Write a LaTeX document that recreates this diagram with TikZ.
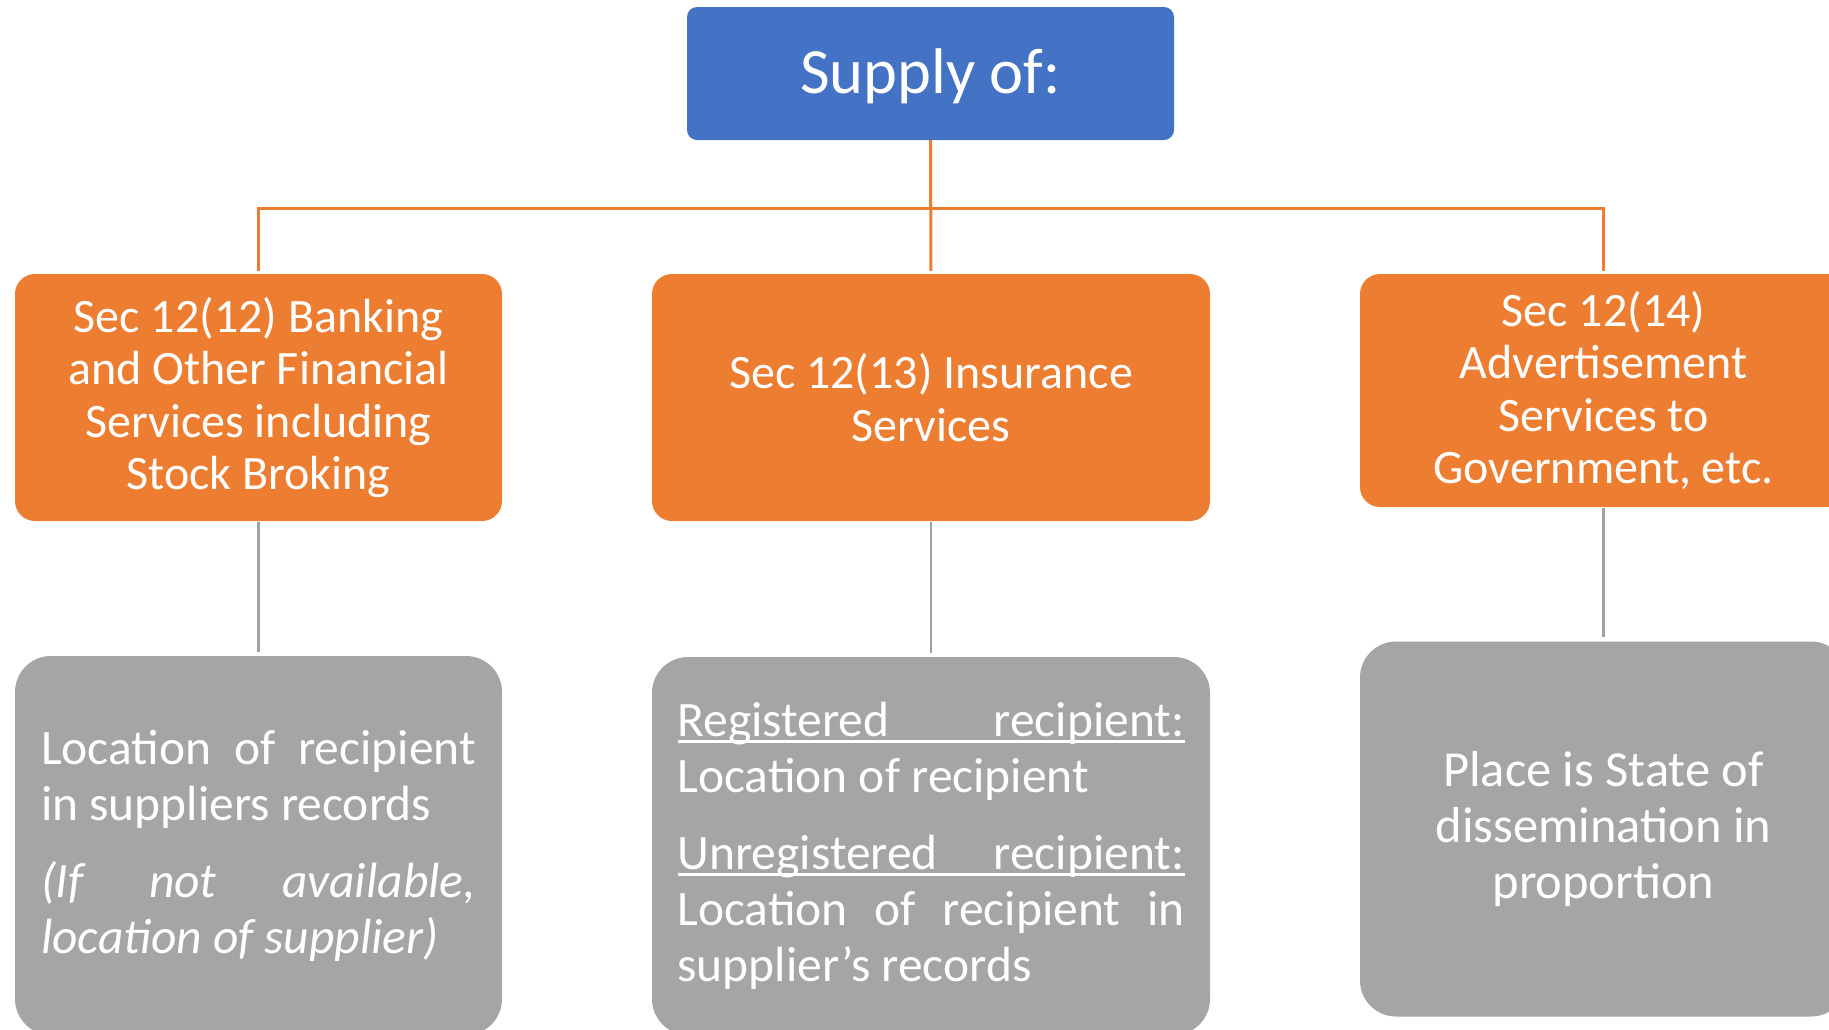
\documentclass[tikz,border=0pt]{standalone}
\usepackage{fontspec}
\setmainfont{Carlito}
\definecolor{hdrblue}{HTML}{4472C4}
\definecolor{secorange}{HTML}{ED7D31}
\definecolor{rulegrey}{HTML}{A5A5A5}
\definecolor{linkgrey}{HTML}{A0A0A0}
% one line of a text block, set to the block's full width
\newcommand{\blockline}[1]{\hbox to\hsize{#1}}
% an underline running across the full width of the line
\newcommand{\fullrule}{\rlap{\rule[-6pt]{\hsize}{2.6pt}}}
\begin{document}
\begin{tikzpicture}[x=1pt,y=-1pt,
  hdr/.style={fill=hdrblue, rounded corners=10pt, minimum width=487pt,
    minimum height=133pt, text=white, inner sep=0pt,
    text height=45pt, text depth=6pt,
    font=\fontsize{64.5}{78}\selectfont},
  sec/.style={fill=secorange, rounded corners=20pt, minimum width=487pt,
    minimum height=247pt, text=white, inner sep=0pt, align=center,
    font=\fontsize{48}{52.5}\selectfont},
  place/.style={fill=rulegrey, rounded corners=36pt, minimum width=487pt,
    text=white, inner sep=0pt, font=\fontsize{49.5}{56}\selectfont},
  orangelink/.style={draw=secorange, line width=3pt},
  greylink/.style={draw=linkgrey, line width=2.6pt},
]
\useasboundingbox (0,0) rectangle (1829,1029);
\clip (0,0) rectangle (1829,1029);

% heading
\node[hdr] (top) at (930.5,73.5) {Supply of:};

% the three sections
\node[sec] (s12) at (258.5,397.5) {Sec 12(12) Banking\\and Other Financial\\Services including\\Stock Broking};
\node[sec, minimum width=558pt] (s13) at (931,397.5) {Sec 12(13) Insurance\\Services};
\node[sec, minimum height=233pt] (s14) at (1603.5,390.5) {Sec 12(14)\\Advertisement\\Services to\\Government, etc.};

% place-of-supply rules
\node[place, minimum height=379pt] (p12) at (258.5,845.5)
  {\parbox{435pt}{%
    \blockline{Location\hfill\ of\hfill\ recipient}
    \blockline{in suppliers records\hfill}
    \vspace{21pt}
    \blockline{\itshape (If\hfill\ not\hfill\ available,}
    \blockline{\itshape location of supplier)\hfill}}};
\node[place, minimum width=558pt, minimum height=378pt] (p13) at (931,846)
  {\parbox{507pt}{%
    \blockline{\fullrule Registered\hfill\ recipient:}
    \blockline{Location of recipient\hfill}
    \vspace{21pt}
    \blockline{\fullrule Unregistered\hfill\ recipient:}
    \blockline{Location\hfill\ of\hfill\ recipient\hfill\ in}
    \blockline{supplier’s records\hfill}}};
\node[place, minimum height=375pt, align=center, font=\fontsize{50.5}{56}\selectfont] (p14) at (1603.5,829)
  {Place is State of\\dissemination in\\proportion};

% connectors from the heading to the sections
\draw[orangelink, shorten >=3pt] (top.south) -- ++(0,68) -| (s12.north);
\draw[orangelink, shorten >=3pt] (top.south) -- (s13.north);
\draw[orangelink, shorten >=3pt] (top.south) -- ++(0,68) -| (s14.north);

% connectors from the sections to their rules
\draw[greylink, shorten <=1pt, shorten >=4pt] (s12.south) -- (p12.north);
\draw[greylink, shorten <=1pt, shorten >=4pt] (s13.south) -- (p13.north);
\draw[greylink, shorten <=1pt, shorten >=4pt] (s14.south) -- (p14.north);
\end{tikzpicture}
\end{document}
